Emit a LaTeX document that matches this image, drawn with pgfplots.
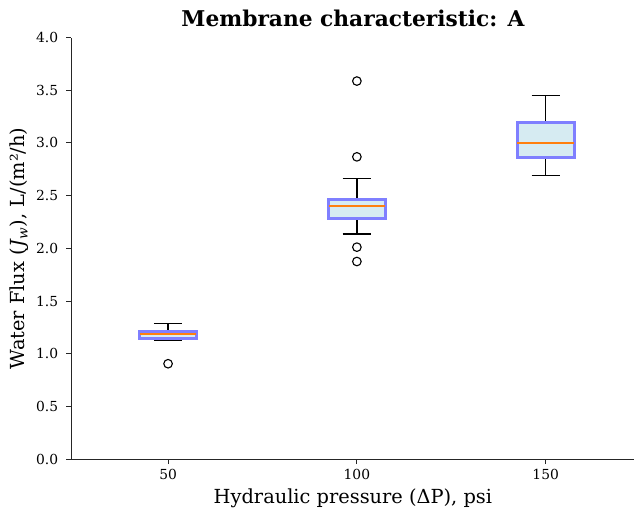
\documentclass[border=0pt]{standalone}
\usepackage{pgfplots}
\pgfplotsset{compat=1.18}
\usepackage{fontspec}
\setmainfont{DejaVu Serif}
\definecolor{boxfill}{RGB}{214,235,242}
\definecolor{boxedge}{RGB}{127,127,255}
\definecolor{medorange}{RGB}{255,127,14}
\begin{document}
\begin{tikzpicture}
\begin{axis}[
  scale only axis,
  width=406.8pt, height=304.6pt,
  xmin=24.4, xmax=173.5,
  ymin=0, ymax=4,
  axis x line*=bottom, axis y line*=left,
  axis line style={-, line width=0.8pt, black!85},
  tick align=outside,
  major tick length=3.6pt,
  tick style={line width=0.7pt, black!85},
  xtick={50,100,150},
  ytick={0,0.5,...,4.0},
  /pgf/number format/assume math mode=true,
  yticklabel style={/pgf/number format/fixed, /pgf/number format/fixed zerofill, /pgf/number format/precision=1, xshift=-2.5pt},
  ticklabel style={font=\fontsize{10}{12}\selectfont},
  xlabel={Hydraulic pressure (ΔP), psi},
  ylabel={Water Flux (\textit{J}\textsubscript{\textit{w}}), L/(m²/h)},
  label style={font=\fontsize{14}{16}\selectfont},
  ylabel style={yshift=-1.5pt},
  title={Membrane characteristic: A},
  title style={font=\bfseries\fontsize{15.7}{18}\selectfont, yshift=-1.7pt},
  unbounded coords=jump,
  whisk/.style={black, line width=1.1pt, forget plot},
  box/.style={draw=boxedge, fill=boxfill, line width=2.2pt, line join=miter, forget plot},
  med/.style={medorange, line width=1.2pt, forget plot},
  flier/.style={only marks, mark=o, mark size=3.1pt, mark options={black, line width=0.8pt}, forget plot},
]
% ---- 50 psi
\addplot[whisk] coordinates {(50,1.21)(50,1.286) (nan,nan) (46.25,1.286)(53.75,1.286)
  (nan,nan) (50,1.147)(50,1.125) (nan,nan) (46.25,1.125)(53.75,1.125)};
\addplot[box] coordinates {(42.5,1.147)(57.5,1.147)(57.5,1.21)(42.5,1.21)} -- cycle;
\addplot[med] coordinates {(42.5,1.19)(57.5,1.19)};
\addplot[flier] coordinates {(50,0.905)};
% ---- 100 psi
\addplot[whisk] coordinates {(100,2.459)(100,2.664) (nan,nan) (96.25,2.664)(103.75,2.664)
  (nan,nan) (100,2.279)(100,2.134) (nan,nan) (96.25,2.134)(103.75,2.134)};
\addplot[box] coordinates {(92.5,2.279)(107.5,2.279)(107.5,2.459)(92.5,2.459)} -- cycle;
\addplot[med] coordinates {(92.5,2.402)(107.5,2.402)};
\addplot[flier] coordinates {(100,3.587) (100,2.868) (100,2.011) (100,1.875)};
% ---- 150 psi
\addplot[whisk] coordinates {(150,3.19)(150,3.452) (nan,nan) (146.25,3.452)(153.75,3.452)
  (nan,nan) (150,2.865)(150,2.692) (nan,nan) (146.25,2.692)(153.75,2.692)};
\addplot[box] coordinates {(142.5,2.865)(157.5,2.865)(157.5,3.19)(142.5,3.19)} -- cycle;
\addplot[med] coordinates {(142.5,2.998)(157.5,2.998)};
\end{axis}
\coordinate (sw) at (current bounding box.south west);
\coordinate (ne) at (current bounding box.north east);
\path ([shift={(-3.8pt,-6pt)}]sw) ([shift={(0pt,3.8pt)}]ne);
\end{tikzpicture}
\end{document}
